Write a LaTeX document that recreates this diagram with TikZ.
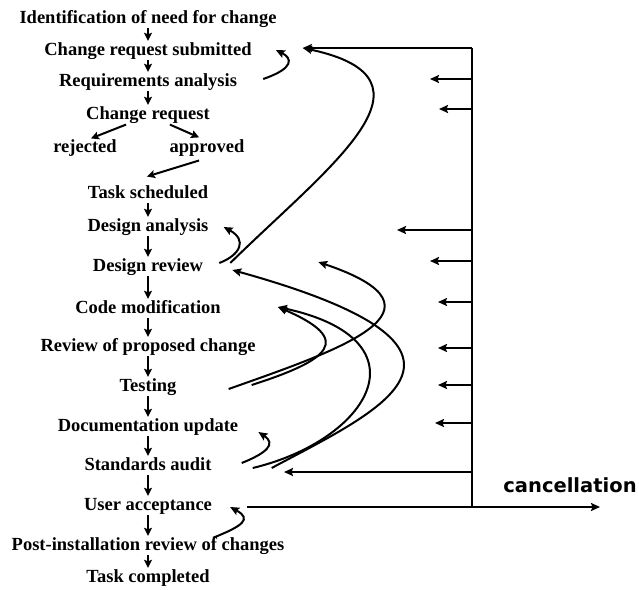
\documentclass[tikz,border=0pt]{standalone}
\usepackage{fontspec}
\setmainfont{Liberation Serif}
\newfontfamily\cancelfont{DejaVu Sans}
\usepackage{tikz}
\usetikzlibrary{arrows.meta,calc}

\tikzset{
  stage/.style={font=\fontsize{18.5}{20}\selectfont\bfseries, inner sep=0pt,
    text height=13pt, text depth=4pt, anchor=base},
  flow/.style={-{Stealth[length=8pt,width=8pt,inset=1.5pt]}, line width=2pt,
    shorten <=1pt, shorten >=1pt},
  rework/.style={-{Stealth[length=9pt,width=8pt,inset=1.5pt]}, line width=2pt},
  stub/.style={-{Stealth[length=9pt,width=8pt,inset=1.5pt]}, line width=2.2pt},
}

\begin{document}
\begin{tikzpicture}[x=1pt,y=-1pt]
  \useasboundingbox (0,0) rectangle (639,589);
  % stages
  \node[stage] (ident)    at (148,23)  {Identification of need for change};
  \node[stage] (csub)     at (148,55)  {Change request submitted};
  \node[stage] (reqan)    at (148,86)  {Requirements analysis};
  \node[stage] (chreq)    at (148,119) {Change request};
  \node[stage] (rejected) at (85,152)  {rejected};
  \node[stage] (approved) at (207,152) {approved};
  \node[stage] (tasksch)  at (148,198) {Task scheduled};
  \node[stage] (dana)     at (148,231) {Design analysis};
  \node[stage] (drev)     at (148,271) {Design review};
  \node[stage] (codemod)  at (148,313) {Code modification};
  \node[stage] (review)   at (148,351) {Review of proposed change};
  \node[stage] (testing)  at (148,391) {Testing};
  \node[stage] (docupd)   at (148,431) {Documentation update};
  \node[stage] (stdaudit) at (148,470) {Standards audit};
  \node[stage] (useracc)  at (148,510) {User acceptance};
  \node[stage] (postinst) at (148,550) {Post-installation review of changes};
  \node[stage] (taskdone) at (148,582) {Task completed};

  % main flow
  \foreach \a/\b in {ident/csub, csub/reqan, reqan/chreq, tasksch/dana, dana/drev,
      drev/codemod, codemod/review, review/testing, testing/docupd,
      docupd/stdaudit, stdaudit/useracc, useracc/postinst, postinst/taskdone}
    \draw[flow] (\a) -- (\b);
  \draw[flow] ([shift={(-21,1)}]chreq.south) -- ([shift={(5,0)}]rejected.north);
  \draw[flow] ([shift={(21,1)}]chreq.south) -- ([shift={(-7,-1)}]approved.north);
  \draw[flow] ([shift={(-7,4)}]approved.south) -- ([shift={(-2,-8)}]tasksch.north);

  % going back
  \coordinate (csubin) at ([shift={(51,-2.5)}]csub.east);
  \draw[rework] ([shift={(26,-2.5)}]reqan.east)
    .. controls +(32,-11) and +(16,8) .. ([shift={(24,-0.5)}]csub.east);
  \draw[rework] ([shift={(27,-3.5)}]drev.east)
    .. controls +(100,-98) and +(147,31) .. (csubin);
  \draw[rework] ([shift={(16,-3.5)}]drev.east)
    .. controls +(21,-8) and +(24,13) .. ([shift={(15,0.5)}]dana.east);
  \draw[rework] ([shift={(52,2.5)}]testing.east)
    .. controls +(110,-39) and +(142,48) .. ([shift={(115,-4.5)}]drev.east);
  \draw[rework] ([shift={(75,-1.5)}]testing.east)
    .. controls +(78,-25) and +(77,33) .. ([shift={(57,-1.5)}]codemod.east);
  \draw[rework] ([shift={(41,2.5)}]stdaudit.east)
    .. controls +(117,-28) and +(152,33) .. ([shift={(57,-1.5)}]codemod.east);
  \draw[rework] ([shift={(60,2.5)}]stdaudit.east)
    .. controls +(108,-58) and +(288,80) .. ([shift={(29,3.5)}]drev.east);
  \draw[rework] ([shift={(30,-2.5)}]stdaudit.east)
    .. controls +(25,-10) and +(18,12) .. ([shift={(20,5.5)}]docupd.east);
  \draw[rework] ([shift={(65,1)}]postinst.north)
    .. controls +(30,-12) and +(22,12) .. ([shift={(18,1.5)}]useracc.east);

  % cancellation
  \coordinate (trunk) at (472,0);
  \coordinate (uaout) at ([shift={(35,1.5)}]useracc.east);
  \coordinate (exit) at (600,507);
  \node[font={\cancelfont\fontsize{19.5}{22}\selectfont\bfseries}, inner sep=0pt,
    anchor=base] (cancel) at (570,492) {cancellation};
  \draw[line width=2.8pt] (trunk |- csubin) -- (trunk |- uaout);
  \draw[stub] (trunk |- csubin) -- (csubin);
  \draw[stub] (uaout) -- (uaout -| exit);
  \foreach \n/\dy/\len in {reqan/-2.5/42, chreq/-5.5/33, dana/3.5/75, drev/-5.5/42,
      codemod/-6.5/34, review/1.5/34, testing/-1.5/34, docupd/-3.5/37,
      stdaudit/6.5/188}
    \draw[stub] ($(trunk |- \n)+(0,\dy)$) -- ++(-\len,0);
\end{tikzpicture}
\end{document}
